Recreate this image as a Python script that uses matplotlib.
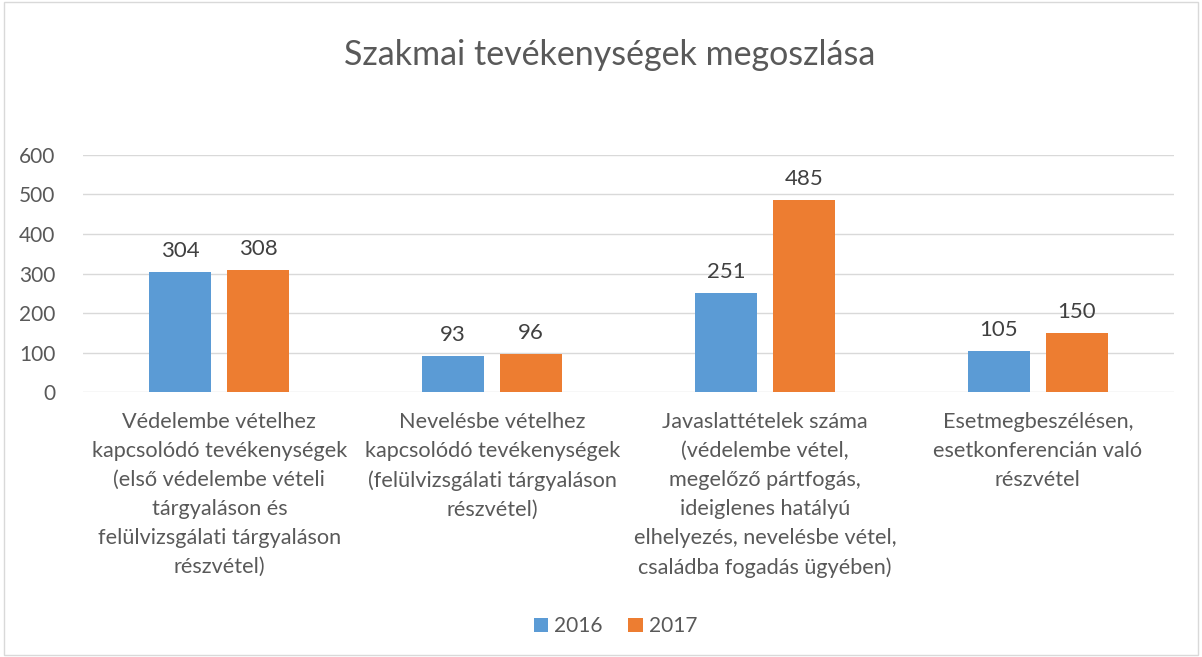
import matplotlib.pyplot as plt
from matplotlib.patches import Rectangle
import numpy as np

categories = [
    "Védelembe vételhez\nkapcsolódó tevékenységek\n(első védelembe vételi\ntárgyaláson és\nfelülvizsgálati tárgyaláson\nrészvétel)",
    "Nevelésbe vételhez\nkapcsolódó tevékenységek\n(felülvizsgálati tárgyaláson\nrészvétel)",
    "Javaslattételek száma\n(védelembe vétel,\nmegelőző pártfogás,\nideiglenes hatályú\nelhelyezés, nevelésbe vétel,\ncsaládba fogadás ügyében)",
    "Esetmegbeszélésen,\nesetkonferencián való\nrészvétel",
]
values_2016 = [304, 93, 251, 105]
values_2017 = [308, 96, 485, 150]
years = ["2016", "2017"]

plt.rcParams['font.family'] = ['Lato', 'DejaVu Sans']
text_color = '#595959'
blue = '#5B9BD5'
orange = '#ED7D31'

fig = plt.figure(figsize=(12.02, 6.57), dpi=100)
ax = fig.add_axes([0.069, 0.4026, 0.908, 0.3619])

x = np.arange(len(categories))
w = 0.227
off = 0.143
b1 = ax.bar(x - off, values_2016, w, color=blue, label=years[0], zorder=3)
b2 = ax.bar(x + off, values_2017, w, color=orange, label=years[1], zorder=3)

for bars in (b1, b2):
    ax.bar_label(bars, padding=8, fontsize=16, color='#404040')

ax.set_xlim(-0.5, len(categories) - 0.5)
ax.set_ylim(0, 600)
ax.set_yticks(range(0, 601, 100))
ax.yaxis.grid(True, color='#D9D9D9', linewidth=1, zorder=0)
for s in ax.spines.values():
    s.set_visible(False)
ax.tick_params(axis='both', length=0, colors=text_color, labelsize=15)
ax.tick_params(axis='y', pad=20)
ax.set_xticks(x)
ax.set_xticklabels(categories, fontsize=15.6, color=text_color, linespacing=1.56)
ax.tick_params(axis='x', pad=14)

fig.text(0.507, 0.916, "Szakmai tevékenységek megoszlása", ha='center', va='center',
         fontsize=24.5, color=text_color)

leg = fig.legend(handles=[b1, b2], labels=years, loc='center', bbox_to_anchor=(0.512, 0.047),
                 ncol=2, frameon=False, fontsize=15, handlelength=0.7, handleheight=0.7,
                 handletextpad=0.3, columnspacing=1.2, labelcolor=text_color)

fig.patches.append(Rectangle((0.003, 0.003), 0.994, 0.994, transform=fig.transFigure,
                             fill=False, edgecolor='#D9D9D9', linewidth=1))

fig.savefig('out.png', dpi=100)
